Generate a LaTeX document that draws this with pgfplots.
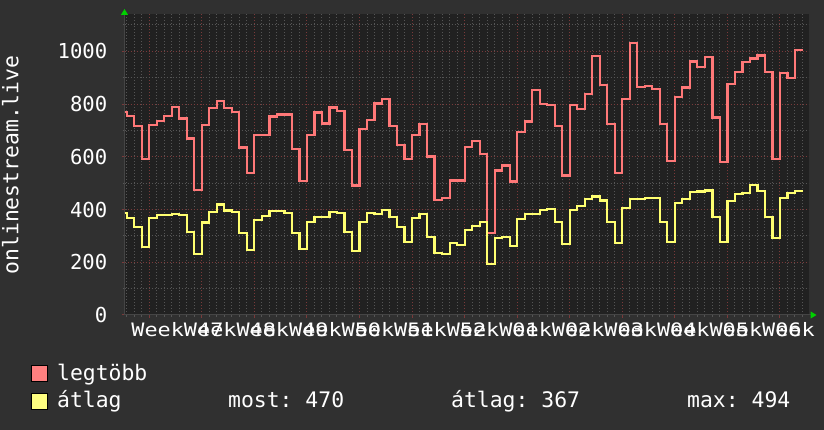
\documentclass[border=0pt]{standalone}
\usepackage{pgfplots}
\pgfplotsset{compat=1.18}
\usepackage{pgfplotstable}
\usepackage{fontspec}
\setmainfont{DejaVu Sans Mono}
\newfontfamily\xlabfont{DejaVu Sans Mono}[FakeStretch=1.18]
\usetikzlibrary{arrows.meta}
\frenchspacing
\definecolor{back}{HTML}{303030}
\definecolor{canvas}{HTML}{212121}
\definecolor{gridminor}{HTML}{555555}
\definecolor{gridmajor}{HTML}{7A3A3A}
\definecolor{axisgray}{HTML}{454545}
\definecolor{redline}{HTML}{FF7878}
\definecolor{yelline}{HTML}{FFFF70}
\definecolor{redbox}{HTML}{FF8080}
\definecolor{yelbox}{HTML}{FFFF80}
\definecolor{arrowgreen}{HTML}{00D000}

\pgfplotstableread{
x y
-3.3 771
-3 755
-2 717
-1 591
0 721
1 737
2 755
3 790
4 745
5 669
6 474
7 721
8 784
9 813
10 784
11 769
12 635
13 540
14 683
15 683
16 753
17 760
18 760
19 630
20 508
21 683
22 768
23 726
24 787
25 775
26 626
27 491
28 706
29 740
30 802
31 819
32 718
33 645
34 592
35 683
36 723
37 601
38 436
39 445
40 510
41 510
42 636
43 660
44 610
45 312
46 548
47 567
48 506
49 694
50 734
51 854
52 800
53 797
54 717
55 529
56 797
57 782
58 839
59 983
60 873
61 725
62 540
63 820
64 1033
65 864
66 869
67 858
68 725
69 584
70 828
71 863
72 961
73 939
74 977
75 749
76 579
77 877
78 920
79 959
80 973
81 984
82 923
83 592
84 918
85 899
86 1006
87 1006
}\maxtable

\pgfplotstableread{
x y
-3.3 386
-3 367
-2 335
-1 258
0 368
1 380
2 380
3 384
4 380
5 316
6 230
7 351
8 391
9 419
10 396
11 390
12 312
13 247
14 360
15 376
16 395
17 394
18 386
19 310
20 249
21 354
22 373
23 373
24 390
25 386
26 316
27 244
28 354
29 386
30 383
31 398
32 373
33 333
34 278
35 367
36 383
37 297
38 234
39 230
40 274
41 266
42 323
43 339
44 352
45 194
46 293
47 297
48 262
49 364
50 382
51 384
52 398
53 401
54 354
55 268
56 398
57 414
58 439
59 449
60 434
61 354
62 272
63 407
64 440
65 440
66 445
67 445
68 354
69 278
70 424
71 440
72 466
73 468
74 472
75 373
76 278
77 433
78 460
79 464
80 494
81 471
82 373
83 293
84 445
85 462
86 470
87 470
}\avgtable

\begin{document}
\begin{tikzpicture}
\fill[back] (0pt,0pt) rectangle (824pt,430pt);
\begin{axis}[
  at={(124.5pt,115pt)}, anchor=south west,
  scale only axis, width=684pt, height=301pt,
  xmin=-3.3, xmax=87.8, ymin=0, ymax=1141.5,
  axis background/.style={fill=canvas},
  axis lines=left,
  x axis line style={draw=axisgray, line width=1pt, shorten >=-8pt, -{Triangle[length=6pt,width=7pt,color=arrowgreen]}},
  y axis line style={draw=axisgray, line width=1pt, shorten >=-5pt, -{Triangle[length=6pt,width=7pt,color=arrowgreen]}},
  xtick={0,7,...,84}, xticklabels={},
  minor xtick={-3,-2,...,87},
  ytick={0,200,...,1000},
  minor ytick={100,300,...,1100},
  grid=both,
  major grid style={draw=gridmajor, dash pattern=on 1pt off 2pt, line width=1pt},
  minor grid style={draw=gridminor, dash pattern=on 1pt off 2pt, line width=1pt},
  tick align=outside,
  major tick length=3pt, minor tick length=2pt,
  major tick style={draw=gridmajor, solid, line width=1pt},
  minor tick style={draw=gridminor, solid, line width=1pt},
  /pgf/number format/assume math mode=true,
  /pgf/number format/1000 sep={},
  yticklabel style={font=\fontsize{20.6}{22}\selectfont, text=white, anchor=east, inner sep=0pt, xshift=-14pt},
  extra x ticks={3.75,10.75,...,87.75},
  extra x tick labels={Week 47,Week 48,Week 49,Week 50,Week 51,Week 52,Week 01,Week 02,Week 03,Week 04,Week 05,Week 06,Week\phantom{ 07}},
  extra x tick style={grid=none, major tick length=0pt,
    xticklabel style={font=\xlabfont\fontsize{18.5}{20}\selectfont, text=white, anchor=base, inner sep=0pt, yshift=-22pt}},
]
\addplot[const plot, draw=redline, line width=2.2pt] table[x=x,y=y] {\maxtable};
\addplot[const plot, draw=yelline, line width=2.2pt] table[x=x,y=y] {\avgtable};
\end{axis}
\node[rotate=90, anchor=base, inner sep=0pt, text=white, font=\fontsize{21.4}{24}\selectfont] at (18.3pt,265pt) {onlinestream.live};
\fill[redbox, draw=black, line width=1pt] (31.7pt,48.3pt) rectangle (47.7pt,64pt);
\fill[yelbox, draw=black, line width=1pt] (31.7pt,20.5pt) rectangle (47.7pt,36.2pt);
\begin{scope}[every node/.style={anchor=base west, inner sep=0pt, text=white, font=\fontsize{21.4}{24}\selectfont}]
\node at (57pt,49.3pt) {legtöbb};
\node at (57pt,22pt) {átlag};
\node at (228pt,22pt) {most: 470};
\node at (451pt,22pt) {átlag: 367};
\node at (687pt,22pt) {max: 494};
\end{scope}
\pgfresetboundingbox
\useasboundingbox (0pt,0pt) rectangle (824pt,430pt);
\end{tikzpicture}
\end{document}
